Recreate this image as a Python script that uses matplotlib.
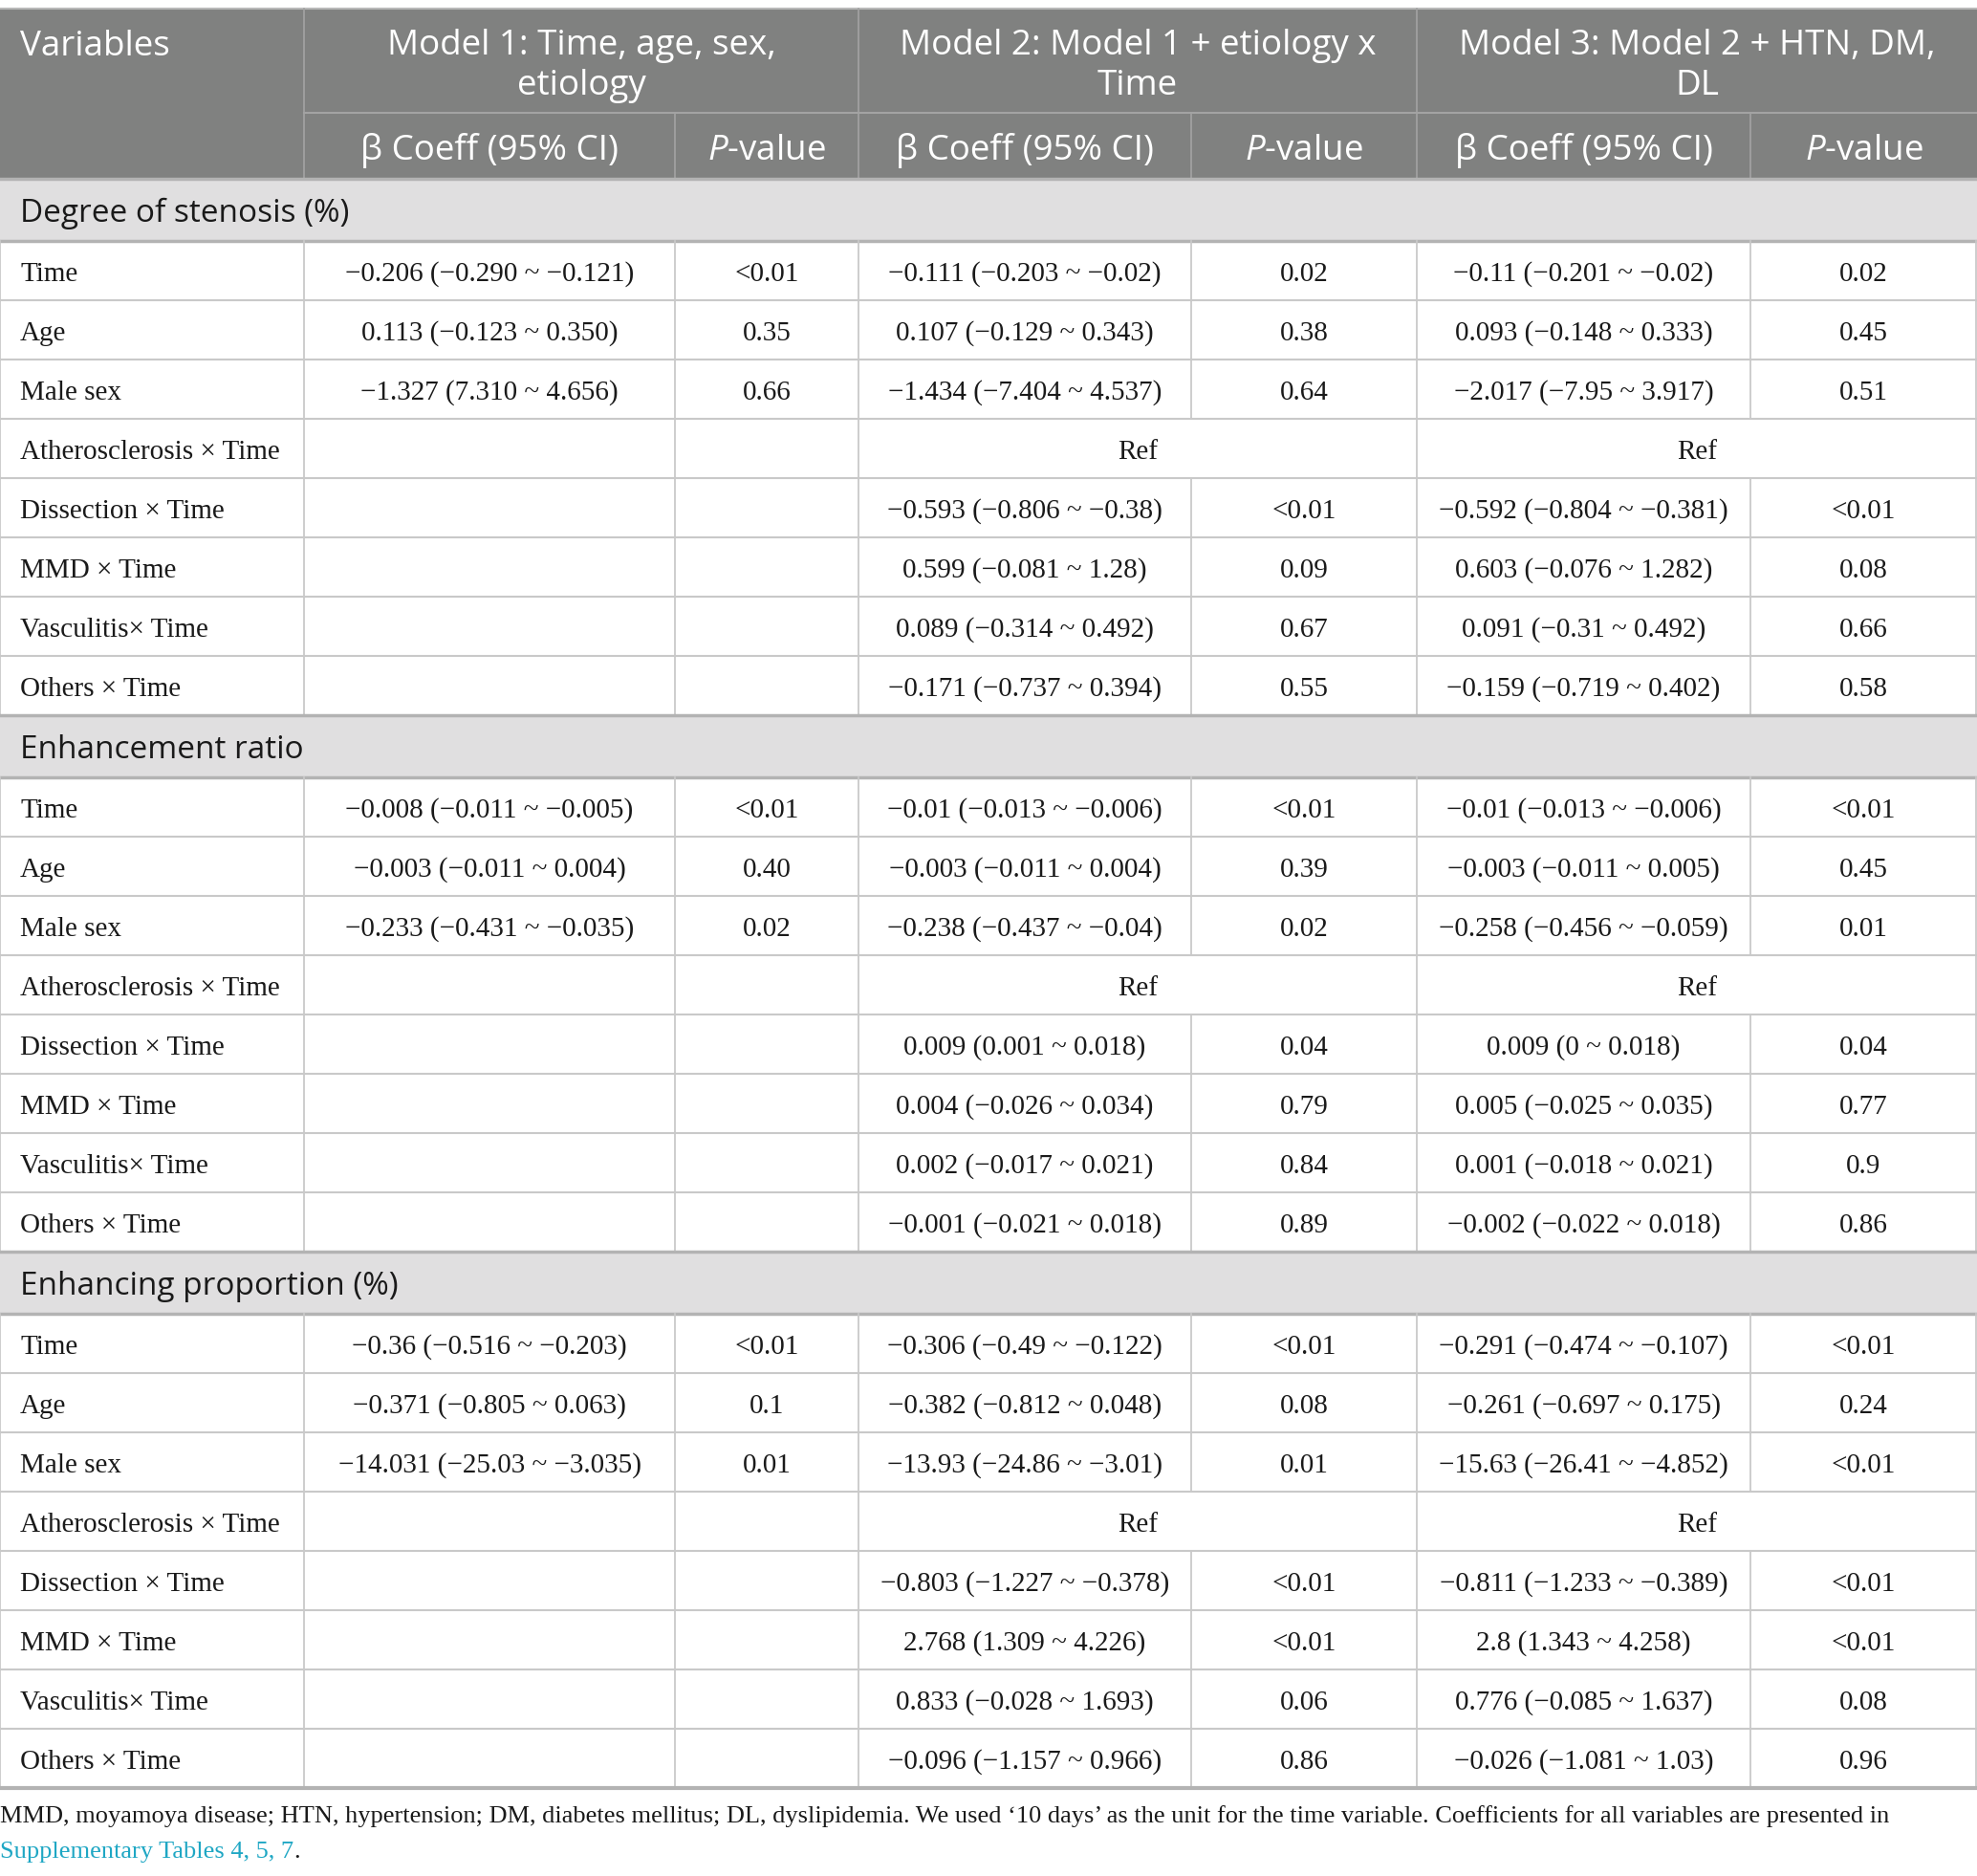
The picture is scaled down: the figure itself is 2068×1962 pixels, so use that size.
import matplotlib
matplotlib.use("Agg")
import matplotlib.pyplot as plt
from matplotlib.patches import Rectangle

plt.rcParams['mathtext.fontset'] = 'custom'
plt.rcParams['mathtext.it'] = 'Open Sans:italic'
plt.rcParams['mathtext.rm'] = 'Open Sans'

# ---- table content ----
model_titles = ["Model 1: Time, age, sex,\netiology",
                "Model 2: Model 1 + etiology x\nTime",
                "Model 3: Model 2 + HTN, DM,\nDL"]
sub_headers = ["β Coeff (95% CI)", "$\\mathit{P}$-value"]

sections = ["Degree of stenosis (%)", "Enhancement ratio", "Enhancing proportion (%)"]
row_labels = ["Time", "Age", "Male sex", "Atherosclerosis × Time", "Dissection × Time",
              "MMD × Time", "Vasculitis× Time", "Others × Time"]

stenosis_m1 = ["−0.206 (−0.290 ~ −0.121)", "0.113 (−0.123 ~ 0.350)", "−1.327 (7.310 ~ 4.656)", "", "", "", "", ""]
stenosis_m1_p = ["<0.01", "0.35", "0.66", "", "", "", "", ""]
stenosis_m2 = ["−0.111 (−0.203 ~ −0.02)", "0.107 (−0.129 ~ 0.343)", "−1.434 (−7.404 ~ 4.537)", "Ref",
               "−0.593 (−0.806 ~ −0.38)", "0.599 (−0.081 ~ 1.28)", "0.089 (−0.314 ~ 0.492)", "−0.171 (−0.737 ~ 0.394)"]
stenosis_m2_p = ["0.02", "0.38", "0.64", "", "<0.01", "0.09", "0.67", "0.55"]
stenosis_m3 = ["−0.11 (−0.201 ~ −0.02)", "0.093 (−0.148 ~ 0.333)", "−2.017 (−7.95 ~ 3.917)", "Ref",
               "−0.592 (−0.804 ~ −0.381)", "0.603 (−0.076 ~ 1.282)", "0.091 (−0.31 ~ 0.492)", "−0.159 (−0.719 ~ 0.402)"]
stenosis_m3_p = ["0.02", "0.45", "0.51", "", "<0.01", "0.08", "0.66", "0.58"]

ratio_m1 = ["−0.008 (−0.011 ~ −0.005)", "−0.003 (−0.011 ~ 0.004)", "−0.233 (−0.431 ~ −0.035)", "", "", "", "", ""]
ratio_m1_p = ["<0.01", "0.40", "0.02", "", "", "", "", ""]
ratio_m2 = ["−0.01 (−0.013 ~ −0.006)", "−0.003 (−0.011 ~ 0.004)", "−0.238 (−0.437 ~ −0.04)", "Ref",
            "0.009 (0.001 ~ 0.018)", "0.004 (−0.026 ~ 0.034)", "0.002 (−0.017 ~ 0.021)", "−0.001 (−0.021 ~ 0.018)"]
ratio_m2_p = ["<0.01", "0.39", "0.02", "", "0.04", "0.79", "0.84", "0.89"]
ratio_m3 = ["−0.01 (−0.013 ~ −0.006)", "−0.003 (−0.011 ~ 0.005)", "−0.258 (−0.456 ~ −0.059)", "Ref",
            "0.009 (0 ~ 0.018)", "0.005 (−0.025 ~ 0.035)", "0.001 (−0.018 ~ 0.021)", "−0.002 (−0.022 ~ 0.018)"]
ratio_m3_p = ["<0.01", "0.45", "0.01", "", "0.04", "0.77", "0.9", "0.86"]

prop_m1 = ["−0.36 (−0.516 ~ −0.203)", "−0.371 (−0.805 ~ 0.063)", "−14.031 (−25.03 ~ −3.035)", "", "", "", "", ""]
prop_m1_p = ["<0.01", "0.1", "0.01", "", "", "", "", ""]
prop_m2 = ["−0.306 (−0.49 ~ −0.122)", "−0.382 (−0.812 ~ 0.048)", "−13.93 (−24.86 ~ −3.01)", "Ref",
           "−0.803 (−1.227 ~ −0.378)", "2.768 (1.309 ~ 4.226)", "0.833 (−0.028 ~ 1.693)", "−0.096 (−1.157 ~ 0.966)"]
prop_m2_p = ["<0.01", "0.08", "0.01", "", "<0.01", "<0.01", "0.06", "0.86"]
prop_m3 = ["−0.291 (−0.474 ~ −0.107)", "−0.261 (−0.697 ~ 0.175)", "−15.63 (−26.41 ~ −4.852)", "Ref",
           "−0.811 (−1.233 ~ −0.389)", "2.8 (1.343 ~ 4.258)", "0.776 (−0.085 ~ 1.637)", "−0.026 (−1.081 ~ 1.03)"]
prop_m3_p = ["<0.01", "0.24", "<0.01", "", "<0.01", "<0.01", "0.08", "0.96"]

section_data = [
    [stenosis_m1, stenosis_m1_p, stenosis_m2, stenosis_m2_p, stenosis_m3, stenosis_m3_p],
    [ratio_m1, ratio_m1_p, ratio_m2, ratio_m2_p, ratio_m3, ratio_m3_p],
    [prop_m1, prop_m1_p, prop_m2, prop_m2_p, prop_m3, prop_m3_p],
]

footnote = ("MMD, moyamoya disease; HTN, hypertension; DM, diabetes mellitus; DL, dyslipidemia. "
            "We used \u201810 days\u2019 as the unit for the time variable. Coefficients for all variables are presented in")
footnote_link = "Supplementary Tables 4, 5, 7"

# ---- layout (pixels) ----
W, H = 2068, 1962
cols = [0, 318, 706, 898, 1246, 1482, 1831, 2068]
top, h1, h2 = 9, 118, 187
sec_h, row_h = 65, 62

header_bg = "#808180"
section_bg = "#e0dfe0"
grid = "#c9c9c9"
sec_line = "#b3b3b3"
head_line = "#a3a3a3"
text_col = "#1a1a1a"
sans = "Open Sans"
serif = "Liberation Serif"
head_fs = 26.5
body_fs = 21
sec_fs = 24

fig = plt.figure(figsize=(W / 100, H / 100), dpi=100)
ax = fig.add_axes([0, 0, 1, 1])
ax.set_xlim(0, W)
ax.set_ylim(H, 0)
ax.axis("off")

# header
ax.add_patch(Rectangle((0, top), W, h2 - top, color=header_bg, lw=0))
ax.plot([0, W], [top, top], color="#b8b8b8", lw=1.5)
ax.plot([cols[1], W], [h1, h1], color=head_line, lw=1.5)
for x in [cols[1], cols[3], cols[5]]:
    ax.plot([x, x], [top, h2], color=head_line, lw=1.2)
for x in [cols[2], cols[4], cols[6]]:
    ax.plot([x, x], [h1, h2], color=head_line, lw=1.2)

ax.text(21, 49, "Variables", fontsize=head_fs, color="white", family=sans, va="center", ha="left")
for i, title in enumerate(model_titles):
    cx = (cols[1 + 2 * i] + cols[3 + 2 * i]) / 2
    ax.text(cx, 69, title, fontsize=head_fs, color="white", family=sans, va="center", ha="center",
            linespacing=1.19)
    for j, sh in enumerate(sub_headers):
        c0, c1 = cols[1 + 2 * i + j], cols[2 + 2 * i + j]
        ax.text((c0 + c1) / 2, 158, sh, fontsize=head_fs, color="white", family=sans,
                va="center", ha="center")

# body
y = h2
for s, name in enumerate(sections):
    ax.add_patch(Rectangle((0, y), W, sec_h, color=section_bg, lw=0))
    ax.plot([0, W], [y, y], color=sec_line, lw=2.5)
    ax.text(21, y + sec_h / 2 + 4, name, fontsize=sec_fs, color=text_col, family=sans, va="center", ha="left")
    y += sec_h
    ax.plot([0, W], [y, y], color=sec_line, lw=2.5)
    data = section_data[s]
    for r, label in enumerate(row_labels):
        cy = y + row_h / 2 + 4
        ax.text(21, cy, label, fontsize=body_fs, color=text_col, family=serif, va="center", ha="left")
        is_ref = data[2][r] == "Ref"
        for c in range(6):
            val = data[c][r]
            if is_ref and c in (2, 4):
                cx = (cols[1 + c] + cols[3 + c]) / 2
            else:
                cx = (cols[1 + c] + cols[2 + c]) / 2
            if val:
                ax.text(cx, cy, val, fontsize=body_fs, color=text_col, family=serif,
                        va="center", ha="center")
        vx = [0, cols[1], cols[2], cols[3], cols[5], W - 1] if is_ref else cols[:-1] + [W - 1]
        for x in vx:
            ax.plot([x, x], [y, y + row_h], color=grid, lw=1.3)
        y += row_h
        if r < len(row_labels) - 1:
            ax.plot([0, W], [y, y], color=grid, lw=1.5)
ax.plot([0, W], [y, y], color=sec_line, lw=3)

# footnote
foot_fs = 19
ax.text(0, 1900, footnote, fontsize=foot_fs, color=text_col, family=serif, va="center", ha="left")
t = ax.text(0, 1937, footnote_link, fontsize=foot_fs, color="#1fa7c4", family=serif, va="center", ha="left")
fig.canvas.draw()
bb = t.get_window_extent()
x_end = ax.transData.inverted().transform((bb.x1, 0))[0]
ax.text(x_end, 1937, ".", fontsize=foot_fs, color=text_col, family=serif, va="center", ha="left")

fig.savefig("out.png", dpi=100)
